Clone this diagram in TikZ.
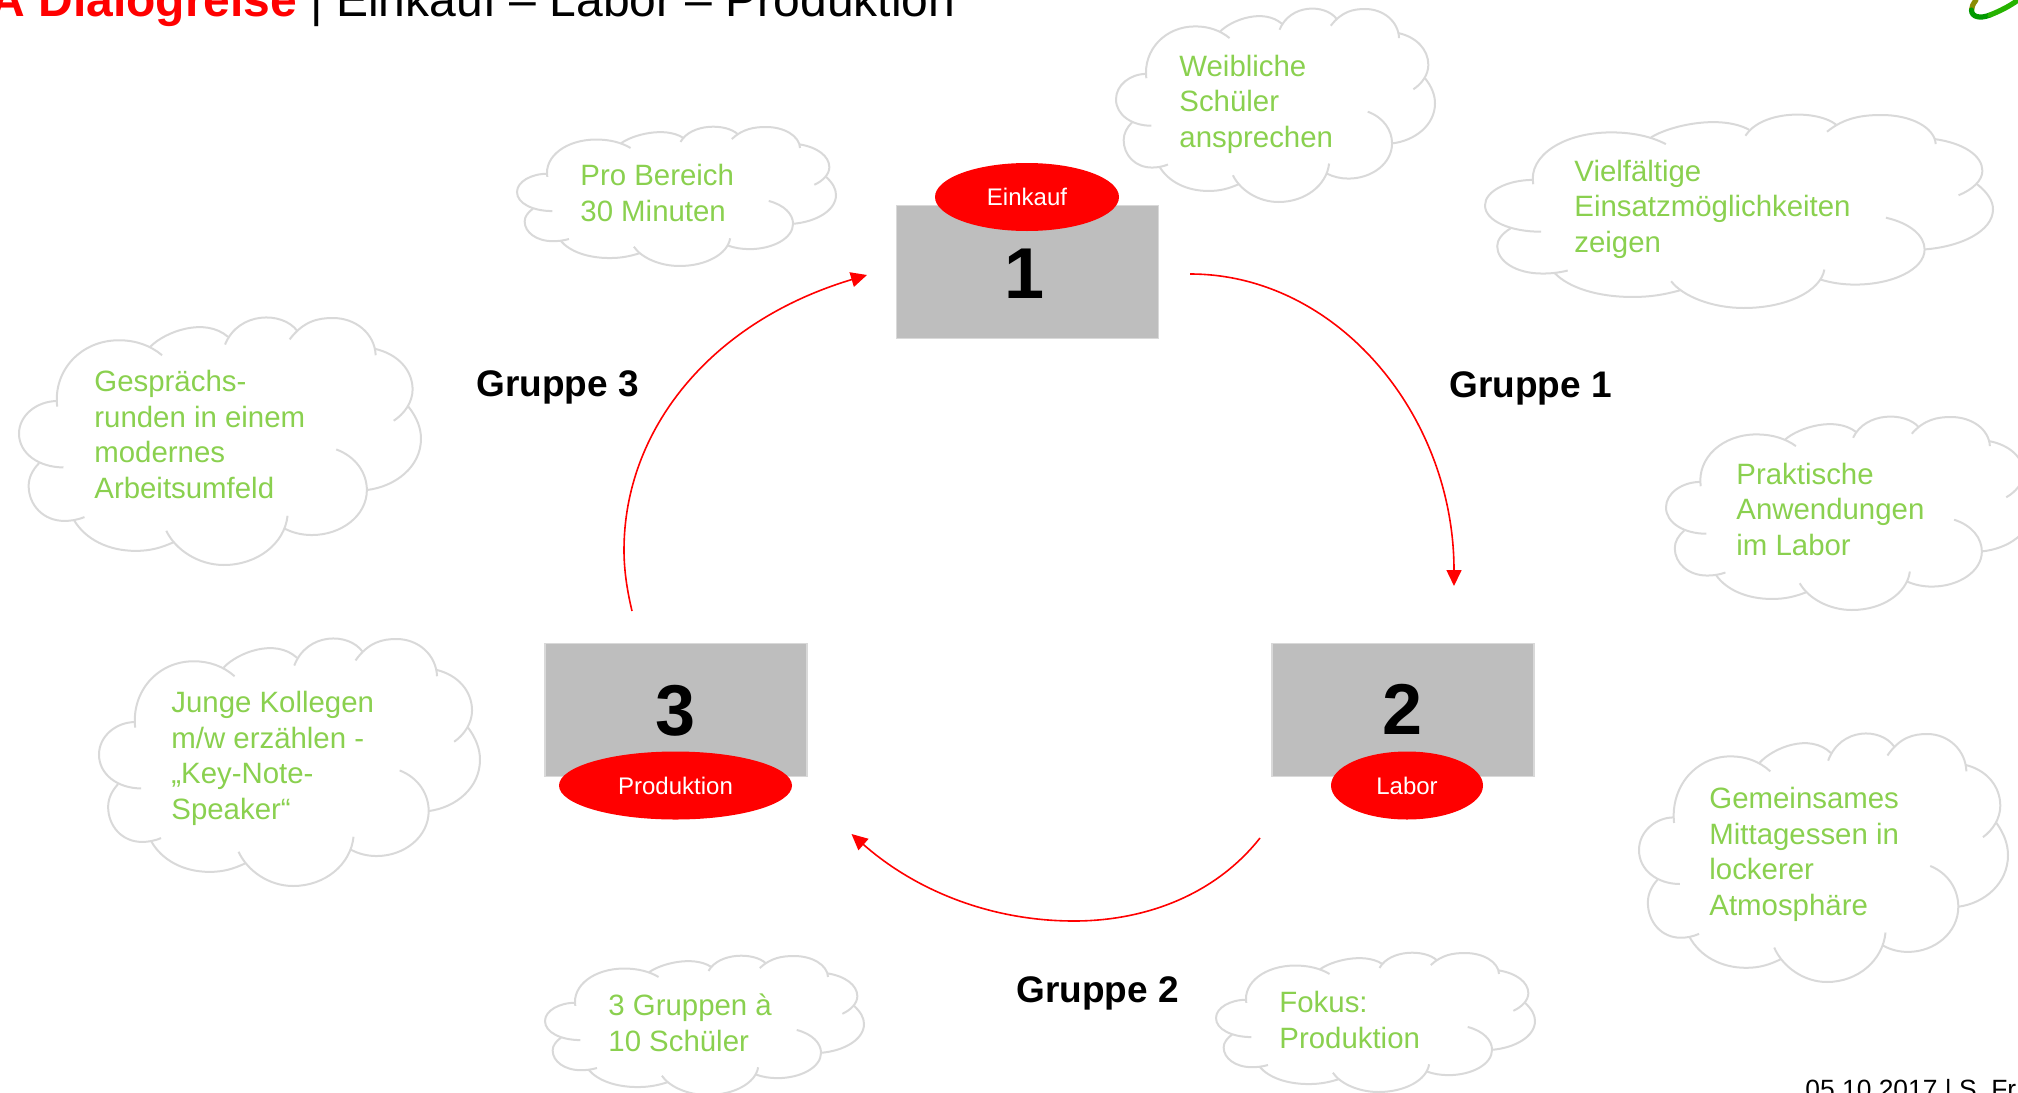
\documentclass[tikz,border=0pt]{standalone}
\usepackage{fontspec}
\setmainfont{Liberation Sans}
\usetikzlibrary{arrows.meta,shapes.geometric}
\definecolor{cloudline}{HTML}{D9D9D9}
\definecolor{cloudtxt}{HTML}{8AD04F}
\definecolor{boxfill}{HTML}{BEBEBE}
\newcommand{\mycloud}[4]{% x0 y0 x1 y1
  \pgfmathsetmacro{\cw}{(#3-#1)/958}\pgfmathsetmacro{\ch}{(#4-#2)/577}
  \begin{scope}[shift={(#1,#2)},xscale=\cw,yscale=\ch,shift={(-47,-28)}]
  \draw[cloudstroke] (138,235) .. controls (128,150) and (195,80) .. (285,80) .. controls (325,80) and (360,92) .. (388,115);
  \draw[cloudstroke] (360,95) .. controls (395,60) and (490,25) .. (545,72);
  \draw[cloudstroke] (538,90) .. controls (570,12) and (675,12) .. (710,58);
  \draw[cloudstroke] (692,78) .. controls (725,35) and (760,28) .. (795,28) .. controls (850,28) and (895,65) .. (897,115);
  \draw[cloudstroke] (895,100) .. controls (950,112) and (985,150) .. (985,195) .. controls (985,225) and (965,252) .. (940,268);
  \draw[cloudstroke] (975,235) .. controls (995,260) and (1005,285) .. (1005,310) .. controls (1005,375) and (945,422) .. (875,430);
  \draw[cloudstroke] (803,335) .. controls (850,352) and (876,390) .. (876,430) .. controls (876,490) and (815,535) .. (745,535) .. controls (722,535) and (700,530) .. (680,520);
  \draw[cloudstroke] (687,490) .. controls (680,555) and (615,605) .. (535,605) .. controls (475,605) and (420,570) .. (398,525);
  \draw[cloudstroke] (415,552) .. controls (385,565) and (360,572) .. (325,572) .. controls (260,572) and (205,545) .. (178,500);
  \draw[cloudstroke] (203,493) .. controls (185,500) and (170,502) .. (155,502) .. controls (105,502) and (70,465) .. (70,420) .. controls (70,400) and (80,382) .. (95,367);
  \draw[cloudstroke] (153,377) .. controls (95,377) and (47,345) .. (47,298) .. controls (47,255) and (90,222) .. (138,222);
  \end{scope}}
\tikzset{
  cloudstroke/.style={draw=cloudline,line width=1pt},
  cloudtext/.style={text=cloudtxt,anchor=base west,inner sep=0pt,align=left,font=\fontsize{14.7pt}{17.7pt}\selectfont},
  greybox/.style={draw=cloudline,line width=0.8pt,fill=boxfill,inner sep=0pt,minimum width=131pt,minimum height=66.5pt},
  redoval/.style={ellipse,fill=red,text=white,inner sep=0pt,minimum height=34pt,font=\fontsize{12pt}{14pt}\selectfont},
  bignum/.style={anchor=base,inner sep=0pt,font=\fontsize{36pt}{40pt}\selectfont\bfseries},
  grouplabel/.style={anchor=base west,inner sep=0pt,font=\fontsize{18.5pt}{22pt}\selectfont\bfseries},
  flow/.style={draw=red,line width=0.8pt,-{Triangle[length=8pt,width=7.5pt]}},
  swoosh/.style={line width=2.6pt,line cap=round}
}
\begin{document}
\begin{tikzpicture}[x=0.5pt,y=-0.5pt]
\useasboundingbox (0,0) rectangle (2018,1092);
% title, footer
\node[anchor=base west,inner sep=0pt,font=\fontsize{24pt}{28pt}\selectfont] (title) at (-10,17) {\textcolor{red}{\bfseries A Dialogreise} | Einkauf – Labor – Produktion};
\node[anchor=base west,inner sep=0pt,font=\fontsize{13.2pt}{16pt}\selectfont] (foot) at (1805,1098) {05.10.2017 | S. Fr};
% logo
\draw[swoosh,color=olive!90!green] (1976,0) .. controls (1973,4) and (1971.5,7) .. (1971.5,10);
\draw[swoosh,color=green!60!black] (1971.5,10) .. controls (1971.5,17) and (1980,19) .. (1990,15);
\draw[swoosh,color=green!65!black!85!yellow] (1990,15) .. controls (2000,11) and (2010,6) .. (2018,0);
% clouds
\mycloud{517}{127}{836}{266}
\mycloud{1116}{9}{1435}{202}
\mycloud{1485}{115}{1993}{308}
\mycloud{1666}{417}{2031}{610}
\mycloud{1639}{734}{2008}{982}
\mycloud{19}{318}{421}{565}
\mycloud{99}{639}{480}{886}
\mycloud{545}{956}{864}{1095}
\mycloud{1216}{953}{1535}{1092}
% cloud text (anchored at the last line)
\node[cloudtext] (t1) at (580,221) {Pro Bereich\\30 Minuten};
\node[cloudtext] (t2) at (1179,147) {Weibliche\\Schüler\\ansprechen};
\node[cloudtext] (t3) at (1574,252) {Vielfältige\\Einsatzmöglichkeiten\\zeigen};
\node[cloudtext] (t4) at (1736,555) {Praktische\\Anwendungen\\im Labor};
\node[cloudtext] (t5) at (1709,915) {Gemeinsames\\Mittagessen in\\lockerer\\Atmosphäre};
\node[cloudtext] (t6) at (94,498) {Gesprächs-\\runden in einem\\modernes\\Arbeitsumfeld};
\node[cloudtext] (t7) at (171,819) {Junge Kollegen\\m/w erzählen -\\„Key-Note-\\Speaker“};
\node[cloudtext] (t8) at (608,1051) {3 Gruppen à\\10 Schüler};
\node[cloudtext] (t9) at (1279,1048) {Fokus:\\Produktion};
% boxes
\node[greybox] (b1) at (1027.5,272) {};
\node[greybox] (b2) at (1403,710) {};
\node[greybox] (b3) at (676,710) {};
\node[bignum] (n1) at (1025,298) {1};
\node[bignum] (n2) at (1403,734) {2};
\node[bignum] (n3) at (676,735) {3};
\node[redoval,minimum width=92pt] (o1) at (1027,197) {Einkauf};
\node[redoval,minimum width=76pt] (o2) at (1407,785.5) {Labor};
\node[redoval,minimum width=116.5pt] (o3) at (675.5,785.5) {Produktion};
% group labels
\node[grouplabel] (g1) at (1449,397) {Gruppe 1};
\node[grouplabel] (g2) at (1016,1002) {Gruppe 2};
\node[grouplabel] (g3) at (476,396) {Gruppe 3};
% arrows
\coordinate (a1s) at (1190,274);
\coordinate (a1e) at (1454,586);
\coordinate (a2s) at (1260,838);
\coordinate (a2m) at (1074,921);
\coordinate (a2e) at (851.5,834);
\coordinate (a3s) at (632,611);
\coordinate (a3m) at (624,550);
\coordinate (a3e) at (867,275);
\draw[flow] (a1s) .. controls (1336,274) and (1454,414) .. (a1e);
\draw[flow] (a2s) .. controls (1215,895) and (1145,921) .. (a2m) .. controls (990,921) and (915,890) .. (a2e);
\draw[flow] (a3s) .. controls (627,590) and (624,570) .. (a3m) .. controls (624,430) and (710,322) .. (a3e);
\end{tikzpicture}
\end{document}
